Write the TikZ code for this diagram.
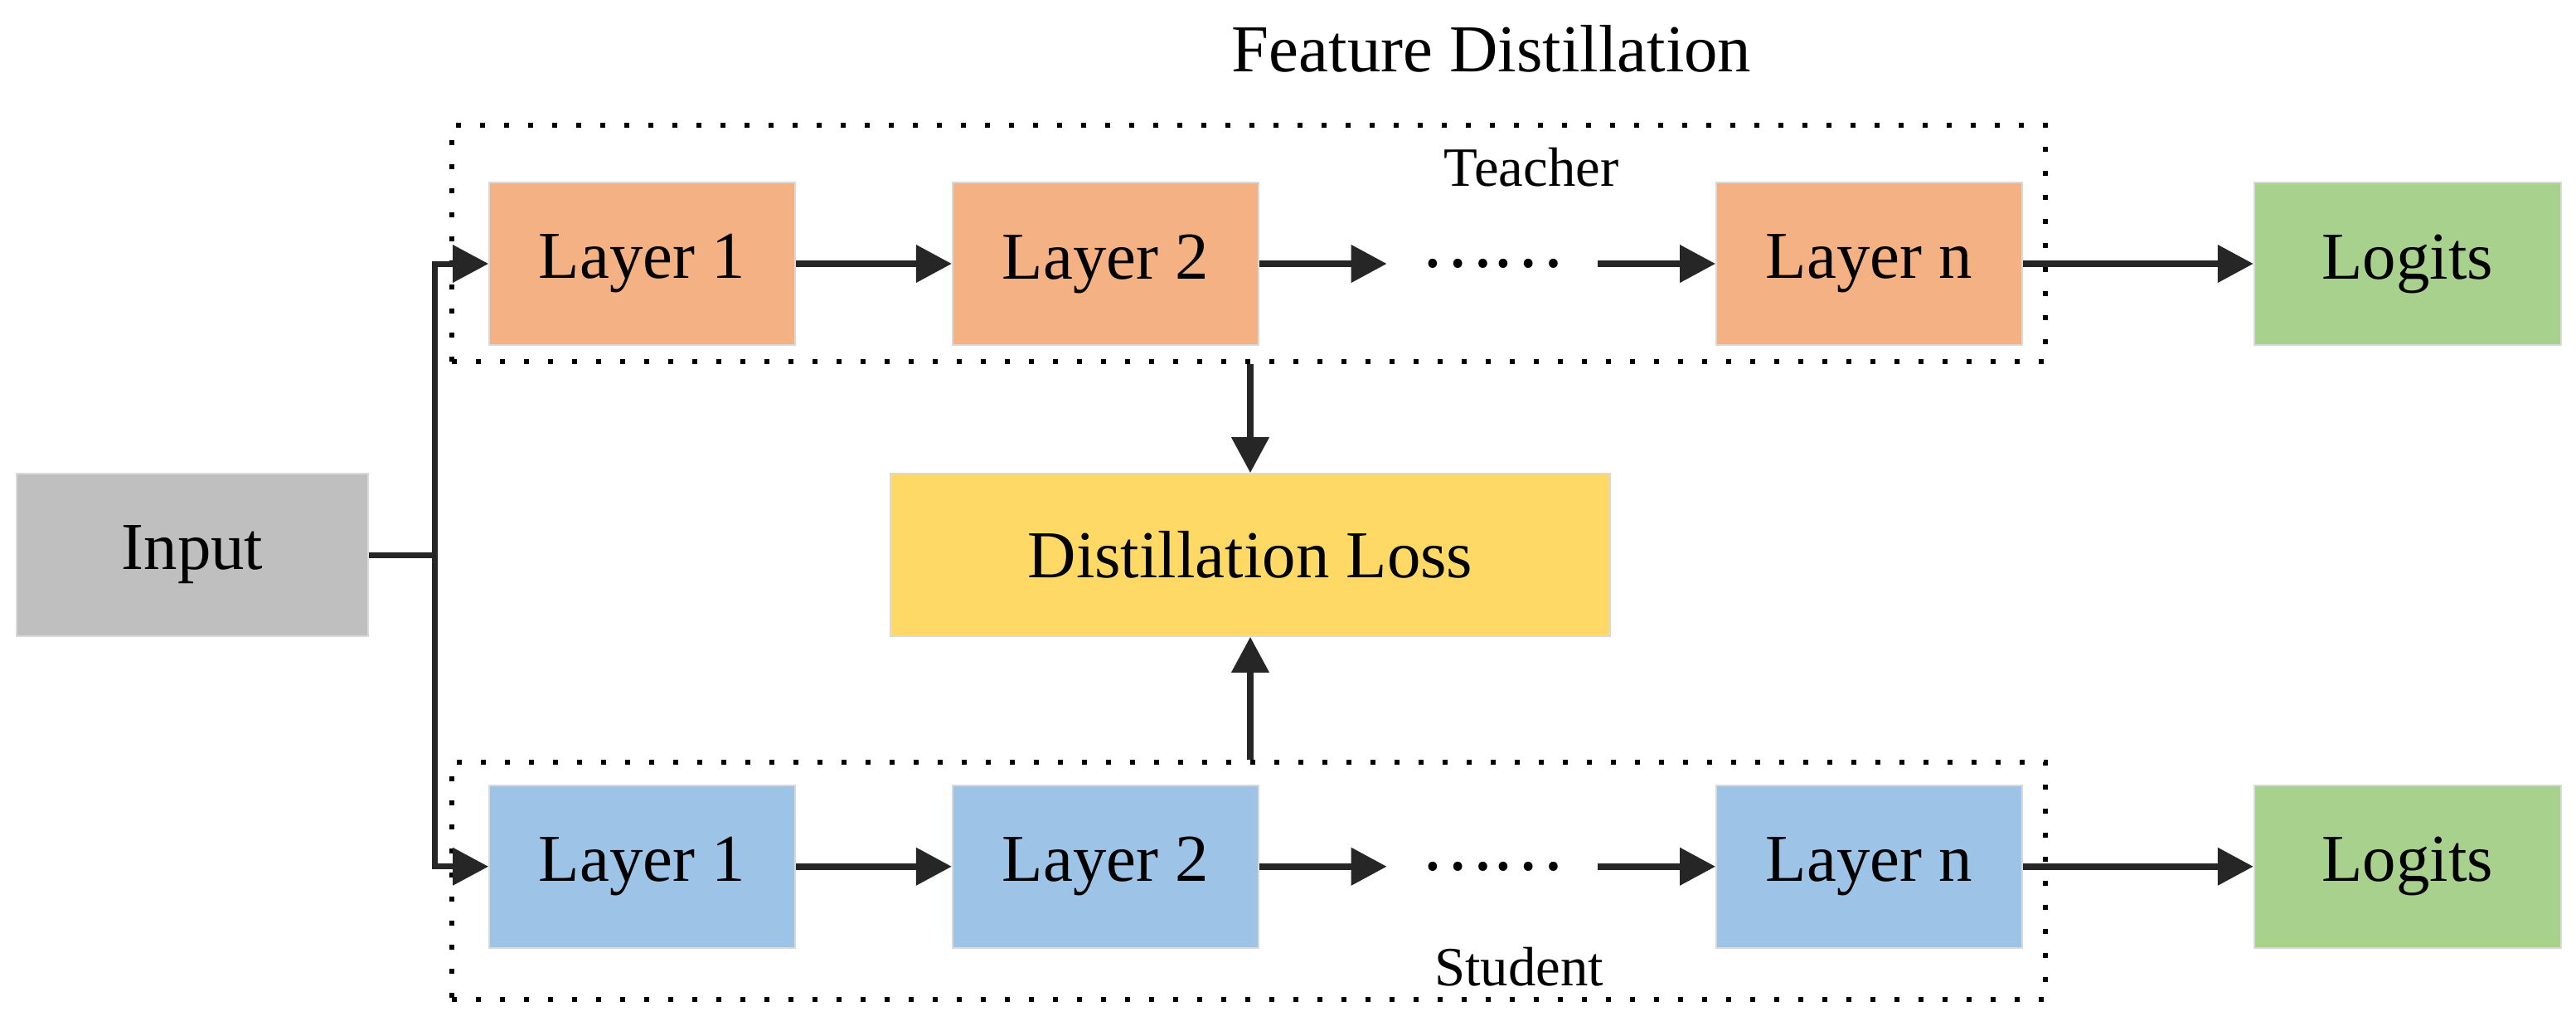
\documentclass[tikz,border=0pt]{standalone}
\usepackage{fontspec}
\setmainfont{Liberation Serif}
\newfontfamily\cjkfont{Noto Sans CJK SC}
\usepackage{tikz}
\usepackage{xcolor}
\usetikzlibrary{arrows.meta,positioning,calc}
\definecolor{tcol}{HTML}{F4B183}
\definecolor{scol}{HTML}{9DC3E6}
\definecolor{lcol}{HTML}{A9D18E}
\definecolor{ycol}{HTML}{FFD966}
\definecolor{gcol}{HTML}{BFBFBF}
\definecolor{arcol}{HTML}{262626}
\newcommand{\blkfont}{\fontsize{23}{27}\selectfont}
\newcommand{\lblfont}{\fontsize{19}{23}\selectfont}
\tikzset{
  layer/.style ={rectangle, draw=gray!30, line width=0.5pt, minimum width=36.9mm,
                 minimum height=19.6mm, inner sep=0pt, align=center, font=\blkfont},
  tlayer/.style={layer, fill=tcol},
  slayer/.style={layer, fill=scol},
  logit/.style ={layer, fill=lcol, minimum width=37mm},
  inp/.style   ={layer, fill=gcol, minimum width=42.4mm},
  loss/.style  ={layer, fill=ycol, minimum width=86.8mm},
  dotsnode/.style={inner sep=0pt, minimum width=25.3mm, font=\blkfont\cjkfont},
  dotbox/.style={rectangle, draw=black, line width=0.6mm, dash pattern=on 0.6mm off 2.3mm,
                 inner sep=0pt},
  lbl/.style   ={inner sep=0pt, font=\lblfont},
  ar/.style    ={-{Triangle[length=4.3mm,width=4.4mm]}, line width=0.75mm, draw=arcol},
  br/.style    ={line width=0.7mm, draw=arcol},
}

\begin{document}
\begin{tikzpicture}[node distance=18.8mm]
\useasboundingbox (0,0) rectangle (31.07,-12.30);

\node[dotbox, minimum width=192.2mm, minimum height=28.5mm] (tbox) at (15.06,-2.935) {};
\node[dotbox, minimum width=192.2mm, minimum height=28.6mm] (sbox) at (15.06,-10.62) {};

\node[lbl, anchor=base, font=\blkfont] (title) at (17.99,-0.87) {Feature Distillation};
\node[lbl, anchor=base] (tlbl) at (18.47,-2.25) {Teacher};
\node[lbl, anchor=base] (slbl) at (18.32,-11.88) {Student};

\node[tlayer] (t1) at (7.745,-3.18) {Layer 1};
\node[tlayer, right=of t1] (t2) {Layer 2};
\node[dotsnode, right=15.4mm of t2] (tdots) {……};
\node[tlayer, right=14.2mm of tdots] (tn) {Layer n};
\node[logit, right=27.8mm of tn] (tlog) {Logits};

\node[slayer, below=52.9mm of t1] (s1) {Layer 1};
\node[slayer, right=of s1] (s2) {Layer 2};
\node[dotsnode, right=15.4mm of s2] (sdots) {……};
\node[slayer, right=14.2mm of sdots] (sn) {Layer n};
\node[logit, right=27.8mm of sn] (slog) {Logits};

\node[inp] (input) at (2.32,-6.69) {Input};
\node[loss] (dl) at (15.08,-6.69) {Distillation Loss};
\coordinate (branch) at (5.24,-6.69);

\draw[br] (input) -- (branch);
\draw[ar, br] (branch) |- (t1);
\draw[ar, br] (branch) |- (s1);
\draw[ar] (t1) -- (t2);
\draw[ar] (t2) -- (tdots);
\draw[ar] (tdots) -- (tn);
\draw[ar] (tn) -- (tlog);
\draw[ar] (s1) -- (s2);
\draw[ar] (s2) -- (sdots);
\draw[ar] (sdots) -- (sn);
\draw[ar] (sn) -- (slog);
\draw[ar] (dl |- tbox.south) -- (dl);
\draw[ar] (dl |- sbox.north) -- (dl);

\end{tikzpicture}
\end{document}
